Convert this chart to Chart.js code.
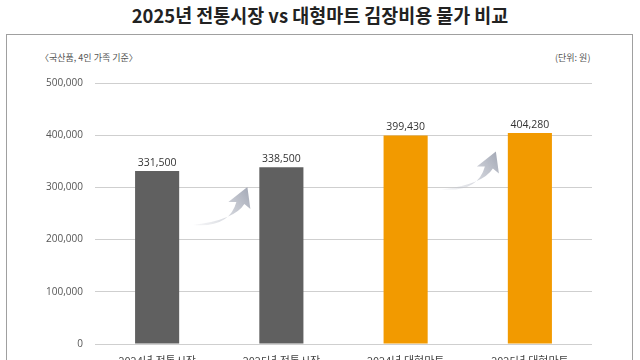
<!DOCTYPE html>
<html>
<head>
<meta charset="utf-8">
<script src="https://cdn.jsdelivr.net/npm/chart.js@4"></script>
<style>
  html, body { margin: 0; padding: 0; background: #fff; overflow: hidden; }
  body { width: 640px; height: 360px; position: relative; font-family: "Noto Sans CJK KR", "Noto Sans", sans-serif; }
  #title { position: absolute; left: 0; top: 1px; width: 640px; text-align: center; font-size: 19px; font-weight: bold; color: #222; transform: scaleX(0.97); }
  #frame { position: absolute; left: 6px; top: 34px; width: 625px; height: 400px; border: 1.5px solid #a0a0a0; }
  .note { position: absolute; top: 51px; font-size: 9px; color: #555; }
  #wrap { position: absolute; left: 0; top: 0; width: 640px; height: 380px; }
</style>
</head>
<body>
<div id="title">2025년 전통시장 vs 대형마트 김장비용 물가 비교</div>
<div id="frame"></div>
<div class="note" style="left:40px">〈국산품, 4인 가족 기준〉</div>
<div class="note" style="left:555px">(단위: 원)</div>
<div id="wrap"><canvas id="barChart" width="640" height="380"></canvas></div>
<script>
// values
const categories = ["2024년 전통시장", "2025년 전통시장", "2024년 대형마트", "2025년 대형마트"];
const costs = [331500, 338500, 399430, 404280];
const barColors = ["#606060", "#606060", "#f29a00", "#f29a00"];
const yTicks = [0, 100000, 200000, 300000, 400000, 500000];

// numbers above the bars
const valueLabels = {
    id: "valueLabels",
    afterDatasetsDraw(chart) {
        const ctx = chart.ctx;
        const meta = chart.getDatasetMeta(0);
        ctx.save();
        ctx.font = "10.5px 'Open Sans', sans-serif";
        ctx.fillStyle = "#333";
        ctx.textAlign = "center";
        ctx.textBaseline = "bottom";
        meta.data.forEach((bar, i) => {
            ctx.fillText(costs[i].toLocaleString("en-US"), bar.x, bar.y - 3);
        });
        ctx.restore();
    }
};

// curved grey arrows between the pairs of bars
const riseArrows = {
    id: "riseArrows",
    afterDatasetsDraw(chart) {
        const ctx = chart.ctx;
        const meta = chart.getDatasetMeta(0);
        [[0, 1], [2, 3]].forEach(([a, b]) => {
            const x0 = meta.data[a].x + 36;
            const x1 = meta.data[b].x - 34;
            const y0 = meta.data[a].y + 54;
            const y1 = meta.data[a].y + 16;
            const grad = ctx.createLinearGradient(x0, y0, x1, y1);
            grad.addColorStop(0, "rgba(200,203,212,0.15)");
            grad.addColorStop(1, "rgba(165,170,183,1)");
            ctx.save();
            ctx.fillStyle = grad;
            ctx.beginPath();
            ctx.moveTo(x0, y0);
            ctx.quadraticCurveTo(x1 - 18, y0 + 3, x1 - 11, y1 + 15);
            ctx.lineTo(x1 - 19, y1 + 15);
            ctx.lineTo(x1, y1);
            ctx.lineTo(x1 + 3, y1 + 22);
            ctx.lineTo(x1 - 3, y1 + 17);
            ctx.quadraticCurveTo(x1 - 13, y0 - 5, x0, y0);
            ctx.closePath();
            ctx.fill();
            ctx.restore();
        });
    }
};

new Chart(document.getElementById("barChart"), {
    type: "bar",
    data: {
        labels: categories,
        datasets: [{
            data: costs,
            backgroundColor: barColors,
            borderWidth: 0,
            categoryPercentage: 1,
            barPercentage: 0.355
        }]
    },
    options: {
        responsive: false,
        animation: false,
        layout: { padding: { top: 83, right: 48, left: 0, bottom: 0 } },
        plugins: { legend: { display: false }, tooltip: { enabled: false } },
        scales: {
            x: {
                grid: { display: false, drawTicks: false },
                border: { display: false },
                ticks: { padding: 10, color: "#444", font: { size: 11, family: "'Noto Sans CJK KR'" } },
                afterFit(scale) { scale.height = 36; }
            },
            y: {
                min: 0,
                max: 500000,
                afterBuildTicks(scale) { scale.ticks = yTicks.map(v => ({ value: v })); },
                grid: { color: "#cfcfcf", lineWidth: 1, drawTicks: false },
                border: { display: false },
                ticks: {
                    padding: 12,
                    color: "#555",
                    font: { size: 10, family: "'Open Sans', sans-serif" },
                    callback: v => v.toLocaleString("en-US")
                },
                afterFit(scale) { scale.width = 95; }
            }
        }
    },
    plugins: [valueLabels, riseArrows]
});
</script>
</body>
</html>
